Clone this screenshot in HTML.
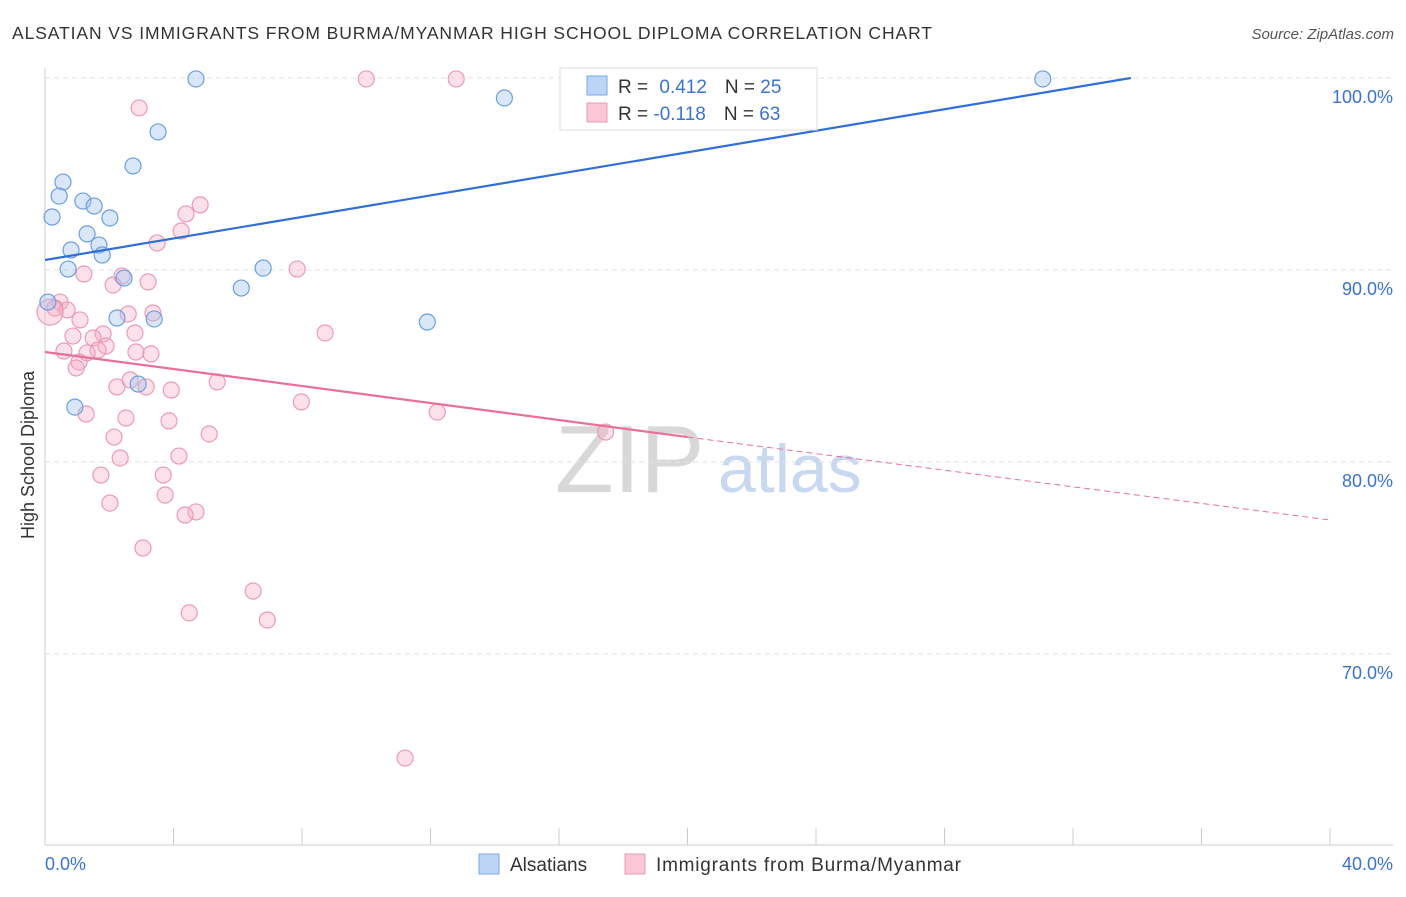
<!DOCTYPE html>
<html><head><meta charset="utf-8"><style>
body{margin:0;background:#fff;font-family:"Liberation Sans",sans-serif;}
svg text{font-family:"Liberation Sans",sans-serif;}
</style></head><body>
<svg id="chart" width="1406" height="892">
<text x="12" y="39" font-size="17.5" fill="#333" textLength="920" lengthAdjust="spacing">ALSATIAN VS IMMIGRANTS FROM BURMA/MYANMAR HIGH SCHOOL DIPLOMA CORRELATION CHART</text>
<text x="1394" y="39" font-size="15" fill="#555" text-anchor="end" font-style="italic">Source: ZipAtlas.com</text>
<text x="555" y="492" font-size="96" fill="#d8d8d8" font-family="Liberation Serif">ZIP</text>
<text x="718" y="492" font-size="68" fill="#c8d8f0">atlas</text>
<text x="34" y="455" font-size="18" fill="#333" transform="rotate(-90 34 455)" text-anchor="middle">High School Diploma</text>
<g id="grid"></g><g id="marks"></g><g id="lines"></g>
<g>
<rect x="560" y="68" width="257" height="62" fill="#fff" stroke="#ddd"/>
<rect x="587" y="76" width="20" height="19" fill="#bcd4f5" stroke="#7aa8e8"/>
<rect x="587" y="103" width="20" height="19" fill="#f9c7d6" stroke="#ec9ab4"/>
<text x="618" y="93" font-size="19" fill="#333">R = <tspan fill="#3b73d1" dx="6">0.412</tspan><tspan dx="18" fill="#333">N = </tspan><tspan fill="#3b73d1">25</tspan></text>
<text x="618" y="120" font-size="19" fill="#333">R = <tspan fill="#3b73d1">-0.118</tspan><tspan dx="18" fill="#333">N = </tspan><tspan fill="#3b73d1">63</tspan></text>
</g>
<g>
<rect x="479" y="854" width="20" height="20" fill="#bcd4f5" stroke="#7aa8e8"/>
<text x="510" y="871" font-size="19" fill="#333">Alsatians</text>
<rect x="625" y="854" width="20" height="20" fill="#f9c7d6" stroke="#ec9ab4"/>
<text x="656" y="871" font-size="19" fill="#333" textLength="305" lengthAdjust="spacing">Immigrants from Burma/Myanmar</text>
</g>
</svg>
<script>
const blueX=[4.70,14.30,31.06,3.52,2.74,0.56,0.44,1.18,1.53,0.22,2.02,1.31,0.81,1.68,1.78,0.72,6.79,2.46,6.11,0.09,2.24,3.40,11.90,2.90,0.93];
const blueY=[99.95,98.96,99.95,97.19,95.42,94.58,93.85,93.59,93.33,92.76,92.71,91.88,91.04,91.30,90.78,90.05,90.10,89.58,89.06,88.33,87.50,87.45,87.29,84.06,82.86];
const pinkX=[10.0,12.8,2.93,4.83,4.39,4.24,3.49,7.85,1.21,2.40,3.21,2.12,0.47,0.31,0.69,1.09,2.59,3.36,8.72,1.81,2.80,0.87,1.50,1.90,1.65,0.59,1.31,3.30,2.83,1.06,0.97,5.36,2.65,2.24,3.15,3.93,7.98,1.28,2.52,3.86,12.21,5.11,2.15,17.45,2.34,4.17,1.74,3.68,3.74,2.02,4.70,4.36,3.05,6.48,4.49,6.92,11.21,0.16];
const pinkY=[99.95,99.95,98.44,93.39,92.92,92.03,91.41,90.05,89.79,89.69,89.38,89.22,88.33,88.02,87.92,87.40,87.71,87.76,86.72,86.67,86.72,86.56,86.46,86.04,85.83,85.78,85.68,85.63,85.73,85.21,84.90,84.17,84.27,83.91,83.91,83.75,83.13,82.50,82.29,82.14,82.60,81.46,81.30,81.56,80.21,80.31,79.32,79.32,78.28,77.86,77.40,77.24,75.52,73.28,72.14,71.77,64.58,87.81];
const yTicks=[100,90,80,70];
const yTickLabels=["100.0%","90.0%","80.0%","70.0%"];
const blueLine=[[0,90.52],[33.8,100]];
const pinkLine=[[0,85.73],[20,81.3],[40,76.98]];
const NS="http://www.w3.org/2000/svg";
const X=v=>45+v*32.125, Y=v=>78+(100-v)*19.2;
function mk(t,a,p){const e=document.createElementNS(NS,t);for(const k in a)e.setAttribute(k,a[k]);p.appendChild(e);return e;}
const grid=document.getElementById('grid');
mk('line',{x1:45,y1:68,x2:45,y2:845,stroke:'#ccc'},grid);
mk('line',{x1:45,y1:845,x2:1393,y2:845,stroke:'#ccc'},grid);
for(let i=0;i<=10;i++){const l=mk('line',{x1:X(i*4),x2:X(i*4),y1:828,y2:845,stroke:'#ccc'},grid);

}
yTicks.forEach((t,i)=>{const l=mk('line',{x1:45,x2:1393,y1:Y(t),y2:Y(t),stroke:'#e2e2e2','stroke-dasharray':'5,4'},grid);


const tx=mk('text',{x:1393,y:Y(t)+25,'text-anchor':'end','font-size':18,fill:'#3b73d1'},grid);tx.textContent=yTickLabels[i];

});
const xl=mk('text',{x:45,y:870,'font-size':18,fill:'#3b73d1'},grid);xl.textContent='0.0%';


const xr=mk('text',{x:1393,y:870,'font-size':18,fill:'#3b73d1','text-anchor':'end'},grid);xr.textContent='40.0%';


const marks=document.getElementById('marks');
pinkX.forEach((x,i)=>{const c=mk('circle',{cx:X(x),cy:Y(pinkY[i]),r:i===pinkX.length-1?13:8,fill:'rgba(245,170,195,0.35)',stroke:'#ec9ab4','stroke-width':1.2},marks);

});
blueX.forEach((x,i)=>{const c=mk('circle',{cx:X(x),cy:Y(blueY[i]),r:8,fill:'rgba(160,195,240,0.4)',stroke:'#6a9fe0','stroke-width':1.2},marks);

});
const lines=document.getElementById('lines');
const bl=mk('line',{x1:X(blueLine[0][0]),y1:Y(blueLine[0][1]),x2:X(blueLine[1][0]),y2:Y(blueLine[1][1]),stroke:'#2f6fd6','stroke-width':2.2},lines);


const pl=mk('line',{x1:X(pinkLine[0][0]),y1:Y(pinkLine[0][1]),x2:X(pinkLine[1][0]),y2:Y(pinkLine[1][1]),stroke:'#e8709a','stroke-width':2.2},lines);


const pd=mk('line',{x1:X(pinkLine[1][0]),y1:Y(pinkLine[1][1]),x2:X(pinkLine[2][0]),y2:Y(pinkLine[2][1]),stroke:'#e8709a','stroke-width':1,'stroke-dasharray':'6,4'},lines);


</script>
</body></html>
